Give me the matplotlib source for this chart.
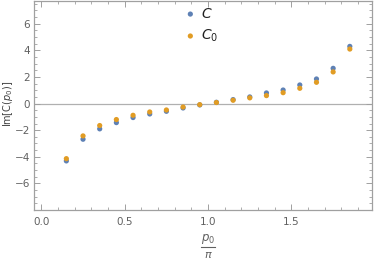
import matplotlib
matplotlib.use("Agg")
import matplotlib.pyplot as plt
from matplotlib.lines import Line2D
from matplotlib.ticker import MultipleLocator

p0 = [0.15, 0.25, 0.35, 0.45, 0.55, 0.65, 0.75, 0.85, 0.95,
      1.05, 1.15, 1.25, 1.35, 1.45, 1.55, 1.65, 1.75, 1.85]
C = [-4.31, -2.68, -1.90, -1.43, -1.05, -0.78, -0.58, -0.33, -0.10,
     0.10, 0.30, 0.50, 0.80, 1.02, 1.40, 1.85, 2.65, 4.30]
C0 = [-4.14, -2.43, -1.65, -1.20, -0.88, -0.63, -0.48, -0.26, -0.08,
      0.08, 0.25, 0.43, 0.60, 0.82, 1.15, 1.60, 2.38, 4.10]
xticks = [0.0, 0.5, 1.0, 1.5]
xticklabels = ["0.0", "0.5", "1.0", "1.5"]
yticks = [-6, -4, -2, 0, 2, 4, 6]
yticklabels = ["\u22126", "\u22124", "\u22122", "0", "2", "4", "6"]

blue = "#5E81B5"
orange = "#E19C24"
gray = "#a0a0a0"
tgray = "#606060"

W, H = 374, 261
fig = plt.figure(figsize=(W / 100, H / 100), dpi=100)
ax = fig.add_axes([34 / W, 1 - 210 / H, (372 - 34) / W, 209.5 / H])

ax.axhline(0, color="#b0b0b0", lw=0.9, zorder=1)
ax.scatter(p0, C, s=14, color=blue, edgecolors="none", zorder=3, label="$C$")
ax.scatter(p0, C0, s=14, color=orange, edgecolors="none", zorder=4, label="$C_0$")

ax.set_xlim(-0.044, 1.983)
ax.set_ylim(-8.0, 7.75)
ax.set_xticks(xticks)
ax.set_xticklabels(xticklabels)
ax.set_yticks(yticks)
ax.set_yticklabels(yticklabels)
ax.xaxis.set_minor_locator(MultipleLocator(0.1))
ax.yaxis.set_minor_locator(MultipleLocator(0.5))
ax.tick_params(which="both", direction="in", top=True, right=True,
               color=gray, labelcolor=tgray, labelsize=7.5)
ax.tick_params(which="major", length=4, width=0.7)
ax.tick_params(which="minor", length=2, width=0.6)
ax.tick_params(axis="x", pad=5)
ax.tick_params(axis="y", pad=3)
for s in ax.spines.values():
    s.set_color(gray)
    s.set_linewidth(0.9)

ax.set_ylabel("Im[C($p_0$)]", fontsize=7, color="#404040")
ax.yaxis.set_label_coords((15 - 34) / 338, (210 - 104) / 209.5)

leg = ax.legend(loc="upper left", bbox_to_anchor=(0.405, 1.03), frameon=False,
                fontsize=10, handletextpad=0.3, labelspacing=0.5,
                handlelength=1.0, markerscale=1.0)
for t in leg.get_texts():
    t.set_color("#202020")

# x label as a fraction
cx = 208 / W
fig.text(cx, 1 - 239 / H, "$p_0$", ha="center", va="center", fontsize=8.5, color=tgray)
fig.add_artist(Line2D([cx - 7 / W, cx + 7 / W], [1 - 247 / H, 1 - 247 / H],
                      transform=fig.transFigure, color=tgray, lw=0.8))
fig.text(cx, 1 - 255 / H, r"$\pi$", ha="center", va="center", fontsize=8, color=tgray)

fig.savefig("out.png", dpi=100)
